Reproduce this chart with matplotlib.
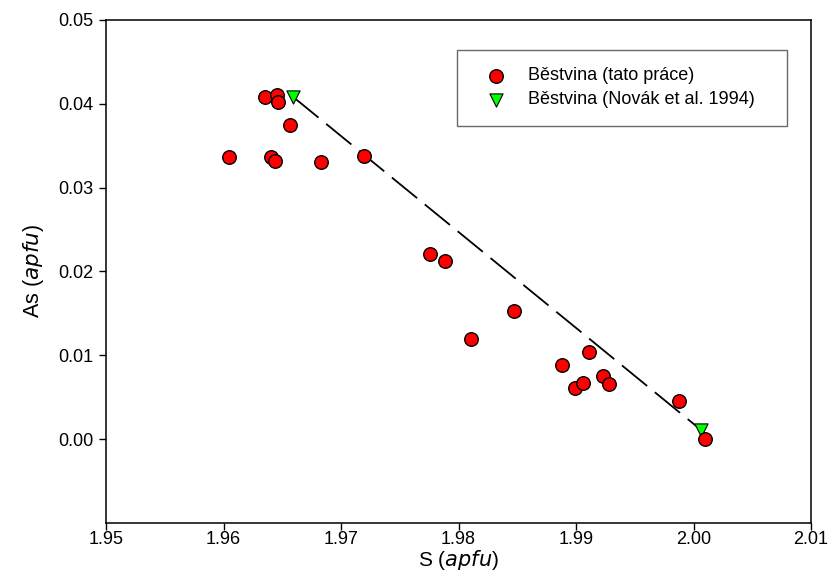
import matplotlib
matplotlib.use("Agg")
from matplotlib import pyplot as plt

plt.rcParams["font.family"] = ["Liberation Sans", "DejaVu Sans"]

# Běstvina (tato práce)
s_this = [1.96048, 1.96355, 1.96457, 1.96466, 1.96568, 1.96406, 1.96440, 1.96832,
          1.97199, 1.97761, 1.97889, 1.98102, 1.98469, 1.98878, 1.98989, 1.99057,
          1.99108, 1.99227, 1.99278, 1.99875, 2.00097]
as_this = [0.0336, 0.0408, 0.0411, 0.0402, 0.0375, 0.0337, 0.0332, 0.0330,
           0.0338, 0.0221, 0.0212, 0.0119, 0.0153, 0.0088, 0.0061, 0.0067,
           0.0104, 0.0075, 0.0066, 0.0045, 0.0000]

# Běstvina (Novák et al. 1994)
s_novak = [1.96594, 2.00063]
as_novak = [0.0408, 0.0011]

fig = plt.figure(figsize=(8.3, 5.71), dpi=100)
ax = fig.add_axes([0.1277, 0.0841, 0.8495, 0.881])

ax.plot(s_novak, as_novak, color="black", lw=1.3, dashes=(18, 5.5), zorder=1)
ax.scatter(s_this, as_this, s=95, c="#ff0000", edgecolors="black", linewidths=1.0,
           zorder=3, label="Běstvina (tato práce)")
ax.scatter(s_novak, as_novak, s=90, marker="v", c="#00ff00", edgecolors="black",
           linewidths=0.8, zorder=2, label="Běstvina (Novák et al. 1994)")

ax.set_xlim(1.95, 2.01)
ax.set_ylim(-0.01, 0.05)
ax.set_xticks([1.95, 1.96, 1.97, 1.98, 1.99, 2.00, 2.01])
ax.set_xticklabels(["1.95", "1.96", "1.97", "1.98", "1.99", "2.00", "2.01"])
ax.set_yticks([0.00, 0.01, 0.02, 0.03, 0.04, 0.05])
ax.set_yticklabels(["0.00", "0.01", "0.02", "0.03", "0.04", "0.05"])
ax.tick_params(direction="out", length=5, width=1, labelsize=13)
ax.tick_params(axis="x", pad=1)
ax.tick_params(axis="y", pad=4)
for sp in ax.spines.values():
    sp.set_linewidth(1.1)

ax.set_xlabel("S ($\\it{apfu}$)", fontsize=15, labelpad=0)
ax.set_ylabel("As ($\\it{apfu}$)", fontsize=15.5, labelpad=9)

leg = ax.legend(loc="upper left", bbox_to_anchor=(0.498, 0.793, 0.468, 0.147),
                mode="expand", fontsize=13, frameon=True, fancybox=False,
                edgecolor="#444444", borderpad=0.95, handlelength=2.4,
                handletextpad=0.6, labelspacing=0.4, scatterpoints=1,
                markerscale=1.0, borderaxespad=0)
leg.get_frame().set_linewidth(1.0)

fig.savefig("out.png", dpi=100)
